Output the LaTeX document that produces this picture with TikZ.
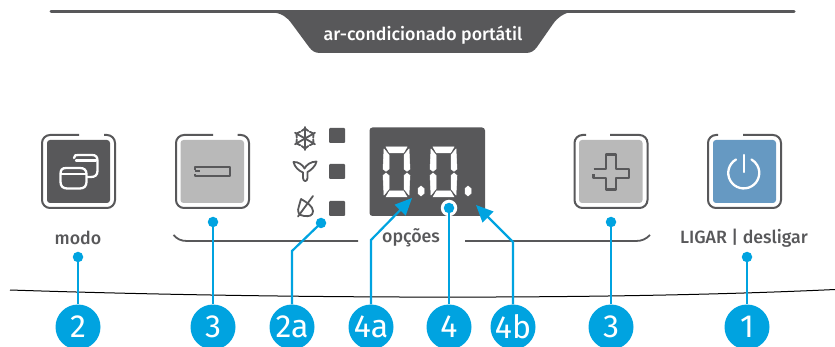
\documentclass[tikz,border=0pt]{standalone}
\usepackage{fontspec}
\setmainfont{Fira Sans Medium}
\newfontfamily\bubblefont{Fira Sans}
\usetikzlibrary{arrows.meta}
\definecolor{panelgrey}{HTML}{58585A}
\definecolor{keygrey}{HTML}{B9B9B9}
\definecolor{keyblue}{HTML}{6699C2}
\definecolor{callblue}{HTML}{00A3E0}
\tikzset{
  frameline/.style={draw=panelgrey,line width=2pt},
  keyface/.style={rounded corners=3pt},
  caption/.style={text=panelgrey,font=\fontsize{17.8}{20}\selectfont,inner sep=0pt},
  bubble/.style={circle,fill=callblue,minimum size=45pt,inner sep=0pt,text=white,font=\bubblefont\fontsize{32}{34}\selectfont},
  dotend/.style={circle,fill=callblue,minimum size=10.5pt,inner sep=0pt},
  lead/.style={draw=callblue,line width=2.2pt},
  leadarrow/.style={lead,-{Triangle[length=17pt,width=15pt]}},
  iconline/.style={draw=panelgrey,line width=1.8pt,line cap=round,line join=round},
  whiteline/.style={draw=white,line width=2.3pt,line cap=round,line join=round},
  segment/.style={fill=white,draw=white,line width=0.5pt},
}
% frame: left x, gap start, gap end
\newcommand{\keyframe}[3]{%
  \draw[frameline] (#2,135) -- (#1+8,135) arc[start angle=90,end angle=180,x radius=8,y radius=-8]
    -- (#1,200) arc[start angle=180,end angle=270,x radius=8,y radius=-8]
    -- (#1+65,208) arc[start angle=270,end angle=360,x radius=8,y radius=-8]
    -- (#1+73,143) arc[start angle=0,end angle=90,x radius=8,y radius=-8] -- (#3,135);}
\newcommand{\digitzero}[1]{%
  \filldraw[segment] (#1+3,147) -- (#1+24,147) -- (#1+20.5,153) -- (#1+6.5,153) -- cycle;
  \filldraw[segment] (#1+3,197) -- (#1+24,197) -- (#1+20.5,191) -- (#1+6.5,191) -- cycle;
  \filldraw[segment] (#1+1,149) -- (#1+6,155) -- (#1+6,169) -- (#1+3,171.3) -- (#1,169) -- cycle;
  \filldraw[segment] (#1+1,195) -- (#1+6,189) -- (#1+6,175.5) -- (#1+3,173) -- (#1,175.5) -- cycle;
  \filldraw[segment] (#1+26,149) -- (#1+21,155) -- (#1+21,169) -- (#1+24,171.3) -- (#1+27,169) -- cycle;
  \filldraw[segment] (#1+26,195) -- (#1+21,189) -- (#1+21,175.5) -- (#1+24,173) -- (#1+27,175.5) -- cycle;}
\newcommand{\digitpoint}[1]{%
  \filldraw[segment] (#1-3,188.5) -- (#1,186) -- (#1+3,188.5) -- (#1+3,193.5) -- (#1,196) -- (#1-3,193.5) -- cycle;}
\begin{document}
\begin{tikzpicture}[x=1pt,y=-1pt]
\useasboundingbox (0,0) rectangle (835,347);
% top bar and banner
\draw[panelgrey,line width=3pt,line cap=round] (51,12) -- (794,12);
\fill[panelgrey] (270,12) .. controls (282,13) and (287,17) .. (292,24)
  -- (309,47) .. controls (312,51) and (315,53) .. (320,53)
  -- (526,53) .. controls (531,53) and (534,51) .. (537,47)
  -- (553,24) .. controls (558,17) and (563,14) .. (570,12) -- cycle;
\node[inner sep=0pt,text=white,font=\fontsize{17.8}{20}\selectfont] (title) at (423,35) {ar-condicionado portátil};
% modo key
\keyframe{42}{79}{104}
\fill[panelgrey,keyface] (47,140) rectangle (110,203);
\draw[whiteline] (74,158) .. controls (74,155) and (76,155) .. (78,155) -- (92,155)
  .. controls (96,155) and (97.5,157) .. (97.5,161) -- (97.5,171) .. controls (97.5,175) and (95,177) .. (91,177) -- (87,177);
\draw[whiteline] (76,160.5) -- (96,160.5);
\draw[whiteline] (60.5,174) .. controls (60.5,170) and (62,168) .. (66,168) -- (80,168)
  .. controls (84,168) and (86.5,170) .. (86.5,174) -- (86.5,182) .. controls (86.5,186) and (84,188.5) .. (80,188.5)
  -- (67,188.5) .. controls (63,188.5) and (60.5,186) .. (60.5,182) -- cycle;
\draw[whiteline] (61,174) -- (86,174);
% minus key
\keyframe{176}{213}{237.5}
\fill[keygrey,keyface] (180.5,140) rectangle (244,203);
\draw[panelgrey,line width=2.9pt,line join=round] (195,170.5) -- (195,167) -- (230,167) -- (230,176) -- (195,176) -- (195,174.5);
\draw[panelgrey,line width=1.8pt] (195,171) -- (200,171);
% plus key
\keyframe{574.5}{586}{610}
\fill[keygrey,keyface] (579,140) rectangle (642.5,203);
\draw[panelgrey,line width=2.9pt,line join=round] (593.5,169) -- (606,169) -- (606,154.5) -- (616,154.5) -- (616,169) -- (629,169) -- (629,178) -- (616,178) -- (616,189.5) -- (606,189.5) -- (606,178) -- (593.5,178) -- (593.5,174.5);
% power key
\keyframe{708}{718}{743}
\fill[keyblue,keyface] (713,140) rectangle (776,203);
\draw[whiteline] (736,159.5) arc[start angle=240,end angle=-60,radius=15.5];
\draw[whiteline] (744,155) -- (744,172);
% status icons
\fill[panelgrey,rounded corners=1pt] (329,128) rectangle (345,143);
\fill[panelgrey,rounded corners=1pt] (329,164) rectangle (345,179);
\fill[panelgrey,rounded corners=1pt] (329,201) rectangle (345,216);
% snowflake
\begin{scope}[shift={(305,138.5)}]
\foreach \a in {90,150,210,270,330,30}{
  \draw[iconline,rotate=\a] (0,0) -- (11.5,0) (7.5,-3.4) -- (10,0) -- (7.5,3.4);
}
\end{scope}
% fan
\draw[iconline] (293.5,162) .. controls (298,161.5) and (303,165) .. (304.5,168.5)
  .. controls (306,165) and (311,161.5) .. (316.5,161.5)
  .. controls (316,166) and (310,171) .. (307.5,172)
  -- (307.5,178) .. controls (307.5,182) and (303,182) .. (303,178)
  -- (303,172.5) .. controls (299,171) and (294.5,167) .. (293.5,162) -- cycle;
% third icon
\draw[iconline] (301,199) .. controls (306,202) and (313,206) .. (313,211)
  .. controls (313,216) and (309,216.5) .. (304,216) .. controls (298,215.5) and (297,211) .. (299,206) -- (301,199);
\draw[iconline] (313,196) -- (298,216.5);
% display
\fill[panelgrey,rounded corners=3pt] (369.5,127.5) rectangle (485,216);
\digitzero{383}
\digitzero{430}
\digitpoint{421}
\digitpoint{468}
% bracket and captions
\draw[panelgrey,line width=1.8pt] (173.5,235) .. controls (177,239) and (181,241) .. (187,241) -- (358,241);
\draw[panelgrey,line width=1.8pt] (465,241) -- (636,241) .. controls (642,241) and (646,239) .. (650,235);
\node[caption] (modo) at (78,238) {modo};
\node[caption] (opcoes) at (411,238) {opções};
\node[caption] (ligar) at (744,238) {LIGAR | desligar};
% enclosure curve
\draw[black,line width=1pt] (10,290) .. controls (250,298) and (590,301) .. (835,289.5);
% callouts
\node[bubble] (c2) at (78,327) {2};
\node[bubble] (c3l) at (213,327) {3};
\node[bubble] (c2a) at (292,327) {2a};
\node[bubble] (c4a) at (371,327) {4a};
\node[bubble] (c4) at (449,327) {4};
\node[bubble] (c4b) at (513,327) {4b};
\node[bubble] (c3r) at (611,327) {3};
\node[bubble] (c1) at (747,327) {1};
\node[dotend] (d2) at (78,257) {};
\node[dotend] (d3l) at (213,222) {};
\node[dotend] (d2a) at (321,223) {};
\node[circle,fill=white,minimum size=16.5pt,inner sep=0pt] (ring) at (449,208) {};
\node[dotend] (d4) at (449,208) {};
\node[dotend] (d3r) at (611,222) {};
\node[dotend] (d1) at (747,257) {};
\coordinate (t4a) at (412,198);
\coordinate (t4b) at (476,205);
\coordinate (k2a) at (292,251);
\coordinate (k4a) at (371,240);
\coordinate (k4b) at (513,242);
\draw[lead] (d2.center) -- (c2);
\draw[lead] (d3l.center) -- (c3l);
\draw[lead] (d2a.center) -- (k2a) -- (c2a);
\draw[leadarrow] (c4a) -- (k4a) -- (t4a);
\draw[lead] (d4.center) -- (c4);
\draw[leadarrow] (c4b) -- (k4b) -- (t4b);
\draw[lead] (d3r.center) -- (c3r);
\draw[lead] (d1.center) -- (c1);
\end{tikzpicture}
\end{document}
